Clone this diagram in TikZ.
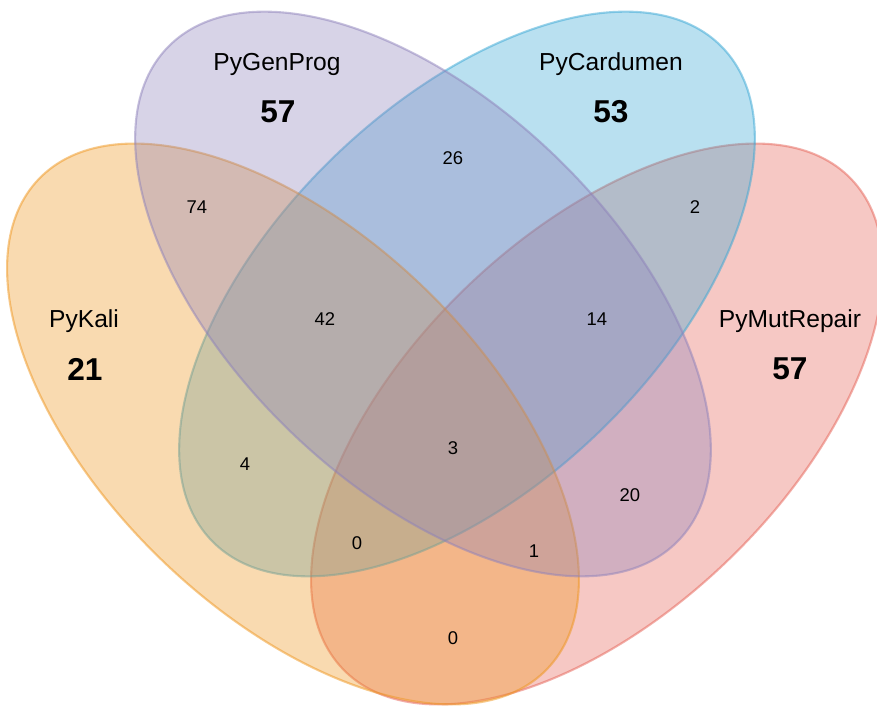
\documentclass[tikz,border=0pt]{standalone}
\usepackage{fontspec}
\setmainfont{Liberation Sans}
\definecolor{kalicol}{RGB}{238,149,29}
\definecolor{genprogcol}{RGB}{141,129,186}
\definecolor{cardumencol}{RGB}{55,166,212}
\definecolor{mutrepaircol}{RGB}{229,98,86}

\begin{document}
\begin{tikzpicture}[x=0.02cm, y=-0.02cm, every node/.style={font=\fontsize{10.5}{12}\selectfont},
	vennset/.style={fill=#1, draw=#1, fill opacity=0.35, draw opacity=0.5, line width=1.2pt},
	setname/.style={font=\fontsize{14}{16}\selectfont},
	settotal/.style={font=\fontsize{18}{21}\selectfont\bfseries}]
	\useasboundingbox (0,0) rectangle (877,709);
	% the four sets
	\draw[vennset=mutrepaircol, rotate around={44:(597,424)}] (597,424) ellipse (353 and 189);
	\draw[vennset=cardumencol, rotate around={44:(467,294)}] (467,294) ellipse (355 and 191);
	\draw[vennset=kalicol, rotate around={-44:(293,424)}] (293,424) ellipse (353 and 189);
	\draw[vennset=genprogcol, rotate around={-44:(423,294)}] (423,294) ellipse (355 and 191);
	% names and totals
	\node[setname] (kaliname) at (84,321) {PyKali};
	\node[settotal] (kalitotal) at (85,369) {21};
	\node[setname] (genprogname) at (277,64) {PyGenProg};
	\node[settotal] (genprogtotal) at (278,112) {57};
	\node[setname] (cardumenname) at (611,64) {PyCardumen};
	\node[settotal] (cardumentotal) at (611,112) {53};
	\node[setname] (mutrepairname) at (790,321) {PyMutRepair};
	\node[settotal] (mutrepairtotal) at (790,369) {57};
	% region counts
	\foreach \pos/\val/\nm in {(453,158)/26/gc, (197,207)/74/kg, (695,207)/2/cm, (325,319)/42/kgc,
		(597,319)/14/gcm, (453,448)/3/kgcm, (245,464)/4/kc, (630,495)/20/gm,
		(357,543)/0/kcm, (534,551)/1/kgm, (453,638)/0/km}
		\node (\nm) at \pos {\val};
\end{tikzpicture}
\end{document}
